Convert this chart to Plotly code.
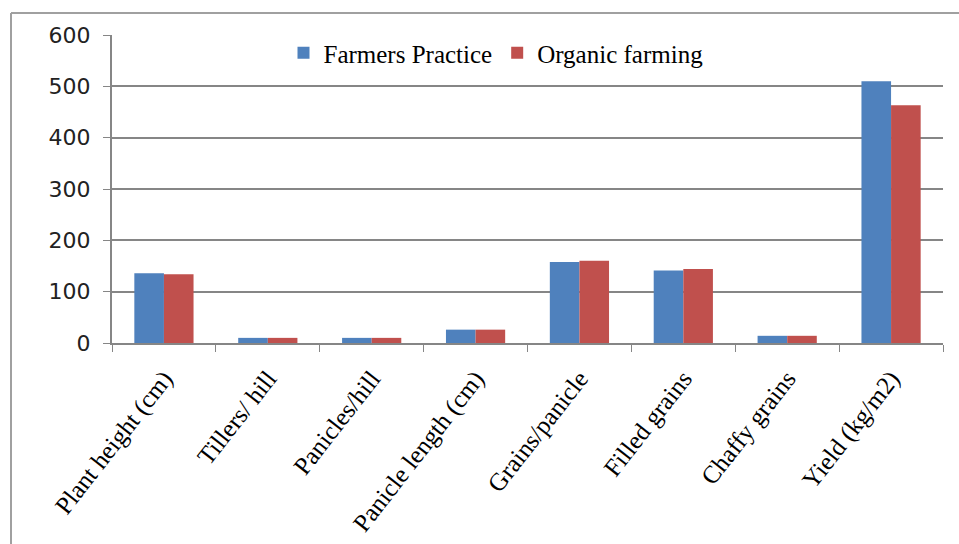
import plotly.graph_objects as go

categories = ["Plant height (cm)", "Tillers/ hill", "Panicles/hill", "Panicle length (cm)",
              "Grains/panicle", "Filled grains", "Chaffy grains", "Yield (kg/m2)"]
farmers_practice = [136, 10, 10, 26, 158, 141, 14, 510]
organic_farming = [134, 10, 10, 26, 160, 144, 14, 463]
y_ticks = [0, 100, 200, 300, 400, 500, 600]

fig = go.Figure()
fig.add_trace(go.Bar(name="Farmers Practice", x=categories, y=farmers_practice,
                     marker=dict(color="#4F81BD", line=dict(width=0))))
fig.add_trace(go.Bar(name="Organic farming", x=categories, y=organic_farming,
                     marker=dict(color="#C0504D", line=dict(width=0))))

L, R, T, B = 112, 16, 35, 201
W, H = 959, 544
pw = W - L - R
ph = H - T - B

def px_x(p):
    return (p - L) / pw

def px_y(p):
    return (H - B - p) / ph

fig.update_layout(
    width=W, height=H,
    margin=dict(l=L, r=R, t=T, b=B, pad=0, autoexpand=False),
    paper_bgcolor="white", plot_bgcolor="white",
    barmode="group", bargap=0.43, bargroupgap=0,
    legend=dict(orientation="h", x=px_x(496), xanchor="center", y=px_y(53), yanchor="middle",
                bgcolor="rgba(0,0,0,0)", font=dict(family="Liberation Serif", size=25, color="black"),
                itemwidth=30, traceorder="normal"),
    showlegend=True,
    xaxis=dict(showgrid=False, showline=True, linecolor="#868686", linewidth=2,
               ticks="outside", tickson="boundaries", ticklen=7, tickcolor="#868686", tickwidth=1,
               tickangle=-52, tickfont=dict(family="Liberation Serif", size=25, color="black"),
               ticklabelstandoff=9, automargin=False, fixedrange=True),
    yaxis=dict(range=[0, 600], tickvals=y_ticks, showgrid=True, gridcolor="#868686", gridwidth=2,
               showline=True, linecolor="#868686", linewidth=2, zeroline=False,
               ticks="outside", ticklen=7, tickcolor="#868686", tickwidth=1,
               tickfont=dict(family="DejaVu Sans", size=22, color="#222222"),
               ticklabelstandoff=8, automargin=False, fixedrange=True),
    shapes=[
        dict(type="line", xref="paper", yref="paper", x0=px_x(11), x1=px_x(965), y0=px_y(13), y1=px_y(13),
             line=dict(color="#A0A0A0", width=2)),
        dict(type="line", xref="paper", yref="paper", x0=px_x(11), x1=px_x(11), y0=px_y(13), y1=px_y(560),
             line=dict(color="#A0A0A0", width=2)),
    ],
)

fig.write_html("out.html")
